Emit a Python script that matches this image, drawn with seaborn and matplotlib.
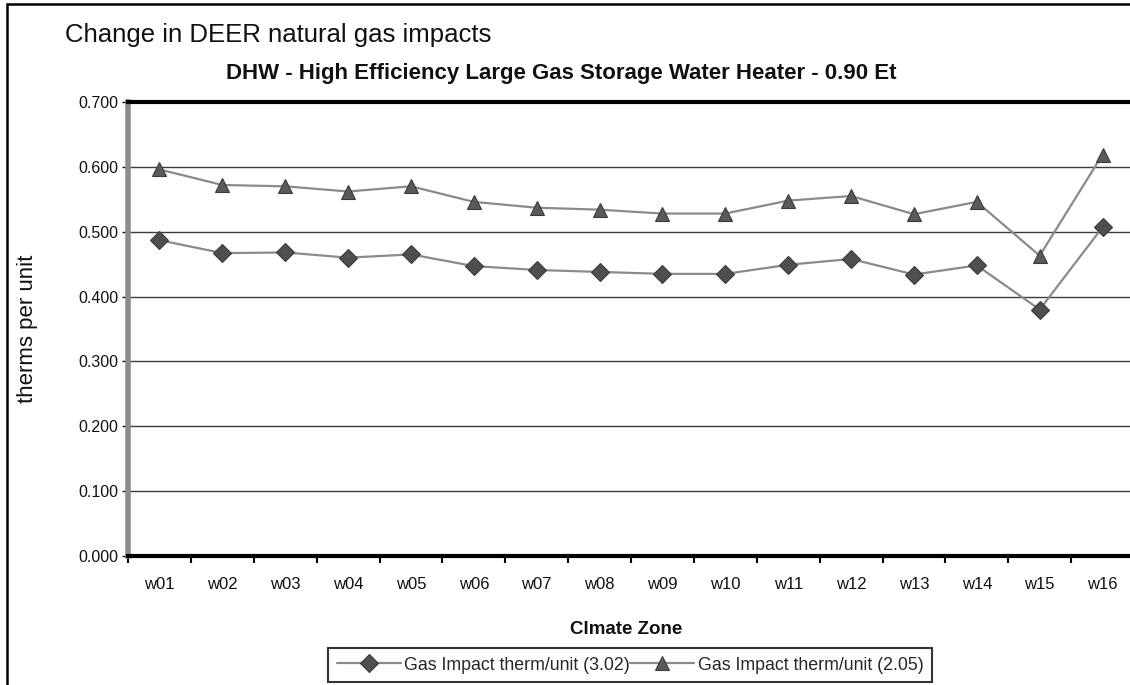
import matplotlib
matplotlib.use("Agg")
import matplotlib.pyplot as plt
import seaborn as sns
import pandas as pd
from matplotlib.patches import Rectangle
from matplotlib.ticker import FixedLocator, FormatStrFormatter

# ---- data ----
zones = ["w01", "w02", "w03", "w04", "w05", "w06", "w07", "w08",
         "w09", "w10", "w11", "w12", "w13", "w14", "w15", "w16"]
gas_302 = [0.487, 0.467, 0.468, 0.460, 0.465, 0.447, 0.441, 0.438,
           0.435, 0.435, 0.449, 0.458, 0.434, 0.448, 0.380, 0.507]
gas_205 = [0.596, 0.572, 0.570, 0.562, 0.570, 0.546, 0.537, 0.534,
           0.528, 0.528, 0.548, 0.555, 0.527, 0.546, 0.463, 0.619]
label_302 = "Gas Impact therm/unit (3.02)"
label_205 = "Gas Impact therm/unit (2.05)"
y_ticks = [0.0, 0.1, 0.2, 0.3, 0.4, 0.5, 0.6, 0.7]

sns.set_style("white")
plt.rcParams["font.family"] = ["Liberation Sans", "DejaVu Sans"]

W, H = 1130, 685
fig = plt.figure(figsize=(W / 100, H / 100), dpi=100)
ax = fig.add_axes([128 / W, 1 - 556 / H, 1006 / W, 454 / H])

df1 = pd.DataFrame({"zone": zones, "value": gas_302})
df2 = pd.DataFrame({"zone": zones, "value": gas_205})

line_col = "#8a8a8a"
mark_col = "#4f4f4f"
sns.lineplot(data=df1, x="zone", y="value", ax=ax, color=line_col, lw=1.6,
             marker="D", markersize=9, markerfacecolor=mark_col,
             markeredgecolor="#3a3a3a", markeredgewidth=0.8, label=label_302,
             zorder=3)
sns.lineplot(data=df2, x="zone", y="value", ax=ax, color=line_col, lw=1.6,
             marker="^", markersize=10, markerfacecolor="#5a5a5a",
             markeredgecolor="#3a3a3a", markeredgewidth=0.8, label=label_205,
             zorder=3)

ax.set_xlim(-0.5, len(zones) - 0.5)
ax.set_ylim(0, 0.7)
ax.set_yticks(y_ticks)
ax.yaxis.set_major_formatter(FormatStrFormatter("%.3f"))
ax.grid(axis="y", color="#3c3c3c", lw=1.0)
ax.grid(axis="x", visible=False)
ax.set_axisbelow(True)

# x ticks: labels at centres, tick marks at boundaries
ax.set_xticks(range(len(zones)))
ax.set_xticklabels(zones)
ax.xaxis.set_minor_locator(FixedLocator([i - 0.5 for i in range(len(zones) + 1)]))
ax.tick_params(axis="x", which="major", length=0, pad=15, labelsize=12, colors="#111111")
ax.tick_params(axis="x", which="minor", length=5, width=1.5, direction="out",
               color="black", bottom=True)
ax.tick_params(axis="y", which="major", length=4, width=1.0, direction="out",
               left=True, pad=3, labelsize=11.5, colors="#111111")

for s in ["top", "bottom"]:
    ax.spines[s].set_color("black")
    ax.spines[s].set_linewidth(3)
ax.spines["left"].set_color("#8c8c8c")
ax.spines["left"].set_linewidth(4)
ax.spines["right"].set_visible(False)

ax.set_ylabel("therms per unit", fontsize=16, color="#111111")
ax.yaxis.set_label_coords((38 - 128) / 1006, 0.5)
ax.set_xlabel("Clmate Zone", fontsize=13.5, fontweight="bold", color="#111111")
ax.xaxis.set_label_coords((626 - 128) / 1006, -(621 - 556) / 454)

# titles
fig.text(65 / W, 1 - 42 / H, "Change in DEER natural gas impacts",
         fontsize=18.5, va="baseline", ha="left", color="#111111")
fig.text(561 / W, 1 - 79 / H,
         "DHW - High Efficiency Large Gas Storage Water Heater - 0.90 Et",
         fontsize=16, fontweight="bold", va="baseline", ha="center", color="#111111")

# legend
if ax.legend_:
    ax.legend_.remove()
handles, labels = ax.get_legend_handles_labels()
leg = fig.legend(handles, labels, loc="center", bbox_to_anchor=(630 / W, 1 - 665 / H),
                 ncol=2, frameon=True, fancybox=False, fontsize=12.8,
                 handlelength=3.6, handletextpad=0.2, columnspacing=0.0,
                 borderpad=0.5, borderaxespad=0)
leg.get_frame().set_edgecolor("black")
leg.get_frame().set_linewidth(1.5)

# outer frame
fig.patches.append(Rectangle((7 / W, -0.05), 1.2, 0.994 + 0.05,
                             transform=fig.transFigure, fill=False,
                             edgecolor="black", lw=1.8, clip_on=False))

fig.savefig("out.png", dpi=100, facecolor="white")
